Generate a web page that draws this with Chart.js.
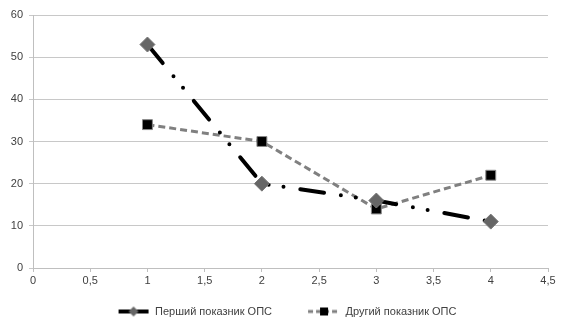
<!DOCTYPE html>
<html><head><meta charset="utf-8">
<script src="https://cdn.jsdelivr.net/npm/chart.js@4"></script>
<style>html,body{margin:0;padding:0;background:#fff}#wrap{width:571px;height:333px}</style>
</head><body><div id="wrap"><canvas id="c"></canvas></div>
<script>
const xValues = [1, 2, 3, 4];
const series1Name = 'Перший показник ОПС';
const series1 = [53, 20, 16, 11];
const series2Name = 'Другий показник ОПС';
const series2 = [34, 30, 14, 22];
const yTicks = [0, 10, 20, 30, 40, 50, 60];
const xTicks = [0, 0.5, 1, 1.5, 2, 2.5, 3, 3.5, 4, 4.5];

function legendIcon(kind){
  const c = document.createElement('canvas');
  c.width = 58; c.height = 16;
  const g = c.getContext('2d');
  g.translate(26, 0);
  if (kind === 1){
    g.strokeStyle = '#000'; g.lineWidth = 4;
    g.beginPath(); g.moveTo(1,8); g.lineTo(31,8); g.stroke();
    g.fillStyle = '#666'; g.beginPath();
    g.moveTo(16,3); g.lineTo(21,8); g.lineTo(16,13); g.lineTo(11,8); g.closePath(); g.fill();
  } else {
    g.strokeStyle = '#808080'; g.lineWidth = 3; g.setLineDash([5,3]);
    g.beginPath(); g.moveTo(0,8); g.lineTo(32,8); g.stroke();
    g.fillStyle = '#000'; g.fillRect(12,4,8,8);
  }
  return c;
}
const icons = [legendIcon(1), legendIcon(2)];

new Chart(document.getElementById('c'), {
  type: 'line',
  data: {
    datasets: [
      {
        label: series1Name,
        data: xValues.map((x,i)=>({x, y: series1[i]})),
        borderColor: '#000', borderWidth: 4,
        borderDash: [24,17,0,15,0,17], borderCapStyle: 'round',
        pointStyle: 'rectRot', pointRadius: 7.5, pointHoverRadius: 7.5,
        pointBackgroundColor: '#666', pointBorderColor: '#777', pointBorderWidth: 1,
        tension: 0, order: 1
      },
      {
        label: series2Name,
        data: xValues.map((x,i)=>({x, y: series2[i]})),
        borderColor: '#808080', borderWidth: 3, borderDash: [7,4],
        pointStyle: 'rect', pointRadius: 7, pointHoverRadius: 7,
        pointBackgroundColor: '#000', pointBorderColor: '#888', pointBorderWidth: 1,
        tension: 0, order: 2
      }
    ]
  },
  options: {
    responsive: true, maintainAspectRatio: false, animation: false,
    layout: { padding: { top: 15, right: 23, bottom: 6, left: 0 } },
    scales: {
      x: {
        type: 'linear', min: 0, max: 4.5,
        afterBuildTicks: s => { s.ticks = xTicks.map(v => ({value: v})); },
        grid: { drawOnChartArea: false, drawTicks: true, tickLength: 4, color: '#bfbfbf' },
        border: { color: '#bfbfbf' },
        ticks: { color: '#404040', font: { family: 'Liberation Sans', size: 11 }, padding: 2,
                 maxRotation: 0, autoSkip: false,
                 callback: v => String(v).replace('.', ',') },
        afterFit: s => { s.height = 28; }
      },
      y: {
        min: 0, max: 60,
        afterBuildTicks: s => { s.ticks = yTicks.map(v => ({value: v})); },
        grid: { color: '#c8c8c8', tickLength: 4 },
        border: { color: '#bfbfbf' },
        ticks: { color: '#404040', font: { family: 'Liberation Sans', size: 11 }, padding: 6 },
        afterFit: s => { s.width = 33; }
      }
    },
    plugins: {
      tooltip: { enabled: false },
      legend: {
        position: 'bottom',
        labels: {
          usePointStyle: true, pointStyleWidth: 58, padding: 10,
          color: '#404040', font: { family: 'Liberation Sans', size: 11 },
          generateLabels: chart => chart.data.datasets.map((d, i) => ({
            text: d.label, pointStyle: icons[i], datasetIndex: i,
            fillStyle: 'transparent', strokeStyle: 'transparent', lineWidth: 0, fontColor: '#404040'
          }))
        }
      }
    }
  }
});
</script></body></html>
